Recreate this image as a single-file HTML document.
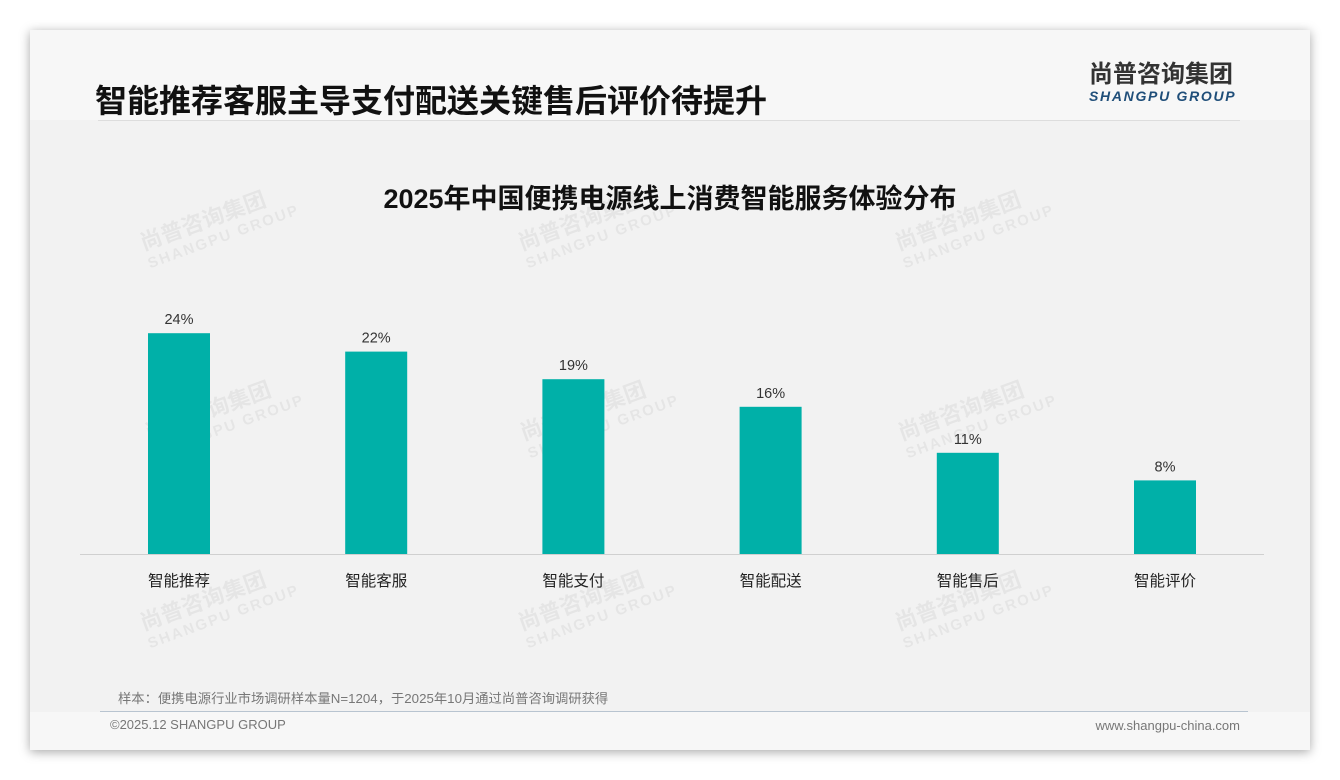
<!DOCTYPE html>
<html><head><meta charset="utf-8"><style>
html,body{margin:0;padding:0;}
body{width:1340px;height:780px;background:#fff;position:relative;overflow:hidden;font-family:"Liberation Sans","Noto Sans CJK SC",sans-serif;}
#card{position:absolute;left:30px;top:30px;width:1280px;height:720px;background:#f7f7f7;box-shadow:0 2px 10px rgba(0,0,0,0.35);}
#plotbg{position:absolute;left:30px;top:120px;width:1280px;height:592px;background:#f2f2f2;}
.t{position:absolute;white-space:nowrap;}
.wm{position:absolute;color:rgba(0,0,0,0.05);font-weight:bold;transform:rotate(-20deg);font-size:22px;line-height:22px;}
.wm span{display:block;font-size:15px;letter-spacing:2px;}
</style></head><body>
<div id="card"></div>
<div id="plotbg"></div>
<div class="t" style="left:95px;top:76px;font-size:32px;font-weight:bold;color:#111;">智能推荐客服主导支付配送关键售后评价待提升</div>
<div class="t" style="left:1089px;top:62px;font-size:24px;line-height:26px;font-weight:bold;color:#333;">尚普咨询集团</div>
<div class="t" style="left:1089px;top:88px;font-size:14px;line-height:16px;font-weight:bold;font-style:italic;color:#1f4e79;letter-spacing:1.7px;">SHANGPU GROUP</div>
<div style="position:absolute;left:98px;top:120px;width:1142px;height:1px;background:#ddd;"></div>
<div class="t" style="left:0;width:1340px;text-align:center;top:177px;font-size:27px;font-weight:bold;color:#111;">2025年中国便携电源线上消费智能服务体验分布</div>
<div class="wm" style="left:140px;top:205px;">尚普咨询集团<span>SHANGPU GROUP</span></div>
<div class="wm" style="left:518px;top:205px;">尚普咨询集团<span>SHANGPU GROUP</span></div>
<div class="wm" style="left:895px;top:205px;">尚普咨询集团<span>SHANGPU GROUP</span></div>
<div class="wm" style="left:145px;top:395px;">尚普咨询集团<span>SHANGPU GROUP</span></div>
<div class="wm" style="left:520px;top:395px;">尚普咨询集团<span>SHANGPU GROUP</span></div>
<div class="wm" style="left:898px;top:395px;">尚普咨询集团<span>SHANGPU GROUP</span></div>
<div class="wm" style="left:140px;top:585px;">尚普咨询集团<span>SHANGPU GROUP</span></div>
<div class="wm" style="left:518px;top:585px;">尚普咨询集团<span>SHANGPU GROUP</span></div>
<div class="wm" style="left:895px;top:585px;">尚普咨询集团<span>SHANGPU GROUP</span></div>
<svg id="chart" width="1340" height="780" style="position:absolute;left:0;top:0;"></svg>
<div class="t" style="left:118px;top:688px;font-size:13.3px;color:#777;">样本：便携电源行业市场调研样本量N=1204，于2025年10月通过尚普咨询调研获得</div>
<div style="position:absolute;left:100px;top:711px;width:1148px;height:1px;background:#b8c4d0;"></div>
<div class="t" style="left:110px;top:717px;font-size:13px;color:#777;">©2025.12 SHANGPU GROUP</div>
<div class="t" style="right:100px;top:718px;font-size:13px;color:#777;">www.shangpu-china.com</div>
<script>
const categories=["智能推荐","智能客服","智能支付","智能配送","智能售后","智能评价"];
const values=[24,22,19,16,11,8];
const valueLabels=["24%","22%","19%","16%","11%","8%"];
const svg=document.getElementById('chart');
const NS='http://www.w3.org/2000/svg';
const baseY=554, pxPer=9.2, x0=179, step=197.2, bw=62;
function xScale(i){return x0+i*step;}
function yScale(v){return baseY-v*pxPer;}
const axis=document.createElementNS(NS,'line');
axis.setAttribute('x1',80);axis.setAttribute('x2',1264);axis.setAttribute('y1',baseY+0.5);axis.setAttribute('y2',baseY+0.5);axis.setAttribute('stroke','#d0d0d0');


svg.appendChild(axis);
categories.forEach((c,i)=>{
  const cx=xScale(i), y=yScale(values[i]);
  const r=document.createElementNS(NS,'rect');
  r.setAttribute('x',cx-bw/2);r.setAttribute('y',y);r.setAttribute('width',bw);r.setAttribute('height',baseY-y);r.setAttribute('fill','#00b0a8');
  
  
  svg.appendChild(r);
  const vl=document.createElementNS(NS,'text');
  vl.setAttribute('x',cx);vl.setAttribute('y',y-9);vl.setAttribute('text-anchor','middle');vl.setAttribute('font-size','14.5');vl.setAttribute('fill','#333');
  vl.setAttribute('font-family','"Liberation Sans",sans-serif');
  vl.textContent=valueLabels[i];
  
  
  svg.appendChild(vl);
  const cl=document.createElementNS(NS,'text');
  cl.setAttribute('x',cx);cl.setAttribute('y',586);cl.setAttribute('text-anchor','middle');cl.setAttribute('font-size','15.5');cl.setAttribute('fill','#222');
  cl.setAttribute('font-family','"Liberation Sans","Noto Sans CJK SC",sans-serif');
  cl.textContent=c;
  
  
  svg.appendChild(cl);
});
</script>
</body></html>
